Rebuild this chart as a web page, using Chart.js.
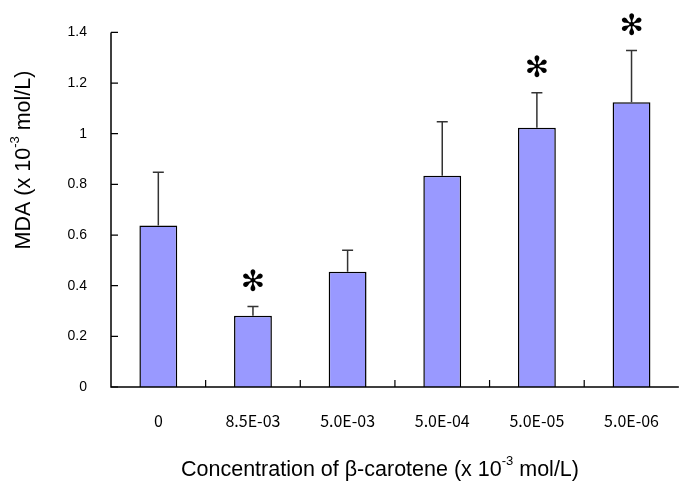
<!DOCTYPE html>
<html>
<head>
<meta charset="utf-8">
<script src="https://cdn.jsdelivr.net/npm/chart.js@4"></script>
<style>
  html, body { margin: 0; padding: 0; background: #fff; overflow: hidden; }
  #wrap { width: 683px; height: 484px; }
</style>
</head>
<body>
<div id="wrap"><canvas id="mda" width="683" height="484"></canvas></div>
<script>
// data
const concentrations = ['0', '8.5E-03', '5.0E-03', '5.0E-04', '5.0E-05', '5.0E-06'];
const mdaMean = [0.638, 0.281, 0.455, 0.834, 1.024, 1.124];
const mdaSD = [0.210, 0.037, 0.085, 0.213, 0.138, 0.205];
const significant = [false, true, false, false, true, true];
const yTicks = [0, 0.2, 0.4, 0.6, 0.8, 1, 1.2, 1.4];

const fontMain = '"Liberation Sans", Arial, sans-serif';

// text with a superscript part, centred on (cx, cy)
function drawSupText(ctx, parts, cx, cy, size) {
  const big = size + 'px ' + fontMain;
  const small = Math.round(size * 0.62) + 'px ' + fontMain;
  let total = 0;
  parts.forEach(p => {
    ctx.font = p.sup ? small : big;
    total += ctx.measureText(p.t).width;
  });
  let x = cx - total / 2;
  ctx.textAlign = 'left';
  ctx.textBaseline = 'middle';
  parts.forEach(p => {
    ctx.font = p.sup ? small : big;
    ctx.fillText(p.t, x, p.sup ? cy - size * 0.38 : cy);
    x += ctx.measureText(p.t).width;
  });
}

// error bars, asterisks, inward tick marks and axis titles
const extras = {
  id: 'extras',
  afterDatasetsDraw(chart) {
    const ctx = chart.ctx;
    const y = chart.scales.y;
    const x = chart.scales.x;
    const area = chart.chartArea;
    const bars = chart.getDatasetMeta(0).data;

    ctx.save();
    // error bars (upper only)
    ctx.strokeStyle = '#333';
    ctx.lineWidth = 1.5;
    bars.forEach((bar, i) => {
      const top = y.getPixelForValue(mdaMean[i] + mdaSD[i]);
      ctx.beginPath();
      ctx.moveTo(bar.x, bar.y);
      ctx.lineTo(bar.x, top);
      ctx.moveTo(bar.x - 5.5, top);
      ctx.lineTo(bar.x + 5.5, top);
      ctx.stroke();
      if (significant[i]) {
        ctx.fillStyle = '#000';
        ctx.font = '29px "DejaVu Sans"';
        ctx.textAlign = 'center';
        ctx.textBaseline = 'middle';
        ctx.fillText('\u273B', bar.x, top - 23);
      }
    });

    // axis lines
    ctx.strokeStyle = '#000';
    ctx.lineWidth = 1.5;
    ctx.beginPath();
    ctx.moveTo(area.left, area.top);
    ctx.lineTo(area.left, area.bottom);
    ctx.lineTo(area.right, area.bottom);
    ctx.stroke();

    // tick marks pointing inward
    ctx.lineWidth = 1.2;
    ctx.beginPath();
    yTicks.forEach(v => {
      const py = y.getPixelForValue(v);
      ctx.moveTo(area.left, py);
      ctx.lineTo(area.left + 7, py);
    });
    for (let i = 1; i < concentrations.length; i++) {
      const px = (x.getPixelForValue(i - 1) + x.getPixelForValue(i)) / 2;
      ctx.moveTo(px, area.bottom);
      ctx.lineTo(px, area.bottom - 7);
    }
    ctx.stroke();

    // axis titles
    ctx.fillStyle = '#000';
    drawSupText(ctx, [
      { t: 'Concentration of \u03B2-carotene (x 10' },
      { t: '-3', sup: true },
      { t: ' mol/L)' }
    ], 380, 470, 21.5);
    ctx.translate(24, 160);
    ctx.rotate(-Math.PI / 2);
    drawSupText(ctx, [
      { t: 'MDA (x 10' },
      { t: '-3', sup: true },
      { t: ' mol/L)' }
    ], 0, 0, 21.5);
    ctx.restore();
  }
};

new Chart(
  document.getElementById('mda'),
  {
    type: 'bar',
    data: {
      labels: concentrations,
      datasets: [
        {
          label: 'MDA',
          data: mdaMean,
          backgroundColor: '#9999FF',
          borderColor: '#000',
          borderWidth: 1.5,
          barPercentage: 0.8,
          categoryPercentage: 0.5
        }
      ]
    },
    options: {
      responsive: false,
      animation: false,
      layout: { padding: { top: 29, right: 0, left: 0, bottom: 0 } },
      plugins: {
        legend: { display: false },
        tooltip: { enabled: false }
      },
      scales: {
        x: {
          grid: { display: false, drawTicks: false },
          border: { display: false },
          ticks: {
            padding: 24,
            color: '#000',
            maxRotation: 0,
            font: { family: '"Noto Sans CJK JP", sans-serif', size: 16 }
          },
          afterFit: s => { s.height = 97; }
        },
        y: {
          min: 0,
          max: 1.4,
          grid: { display: false, drawTicks: false },
          border: { display: false },
          afterBuildTicks: s => { s.ticks = yTicks.map(v => ({ value: v })); },
          ticks: {
            padding: 24,
            color: '#000',
            font: { family: fontMain, size: 14 },
            callback: v => String(v)
          },
          afterFit: s => { s.width = 111; }
        }
      }
    },
    plugins: [extras]
  }
);
</script>
</body>
</html>
